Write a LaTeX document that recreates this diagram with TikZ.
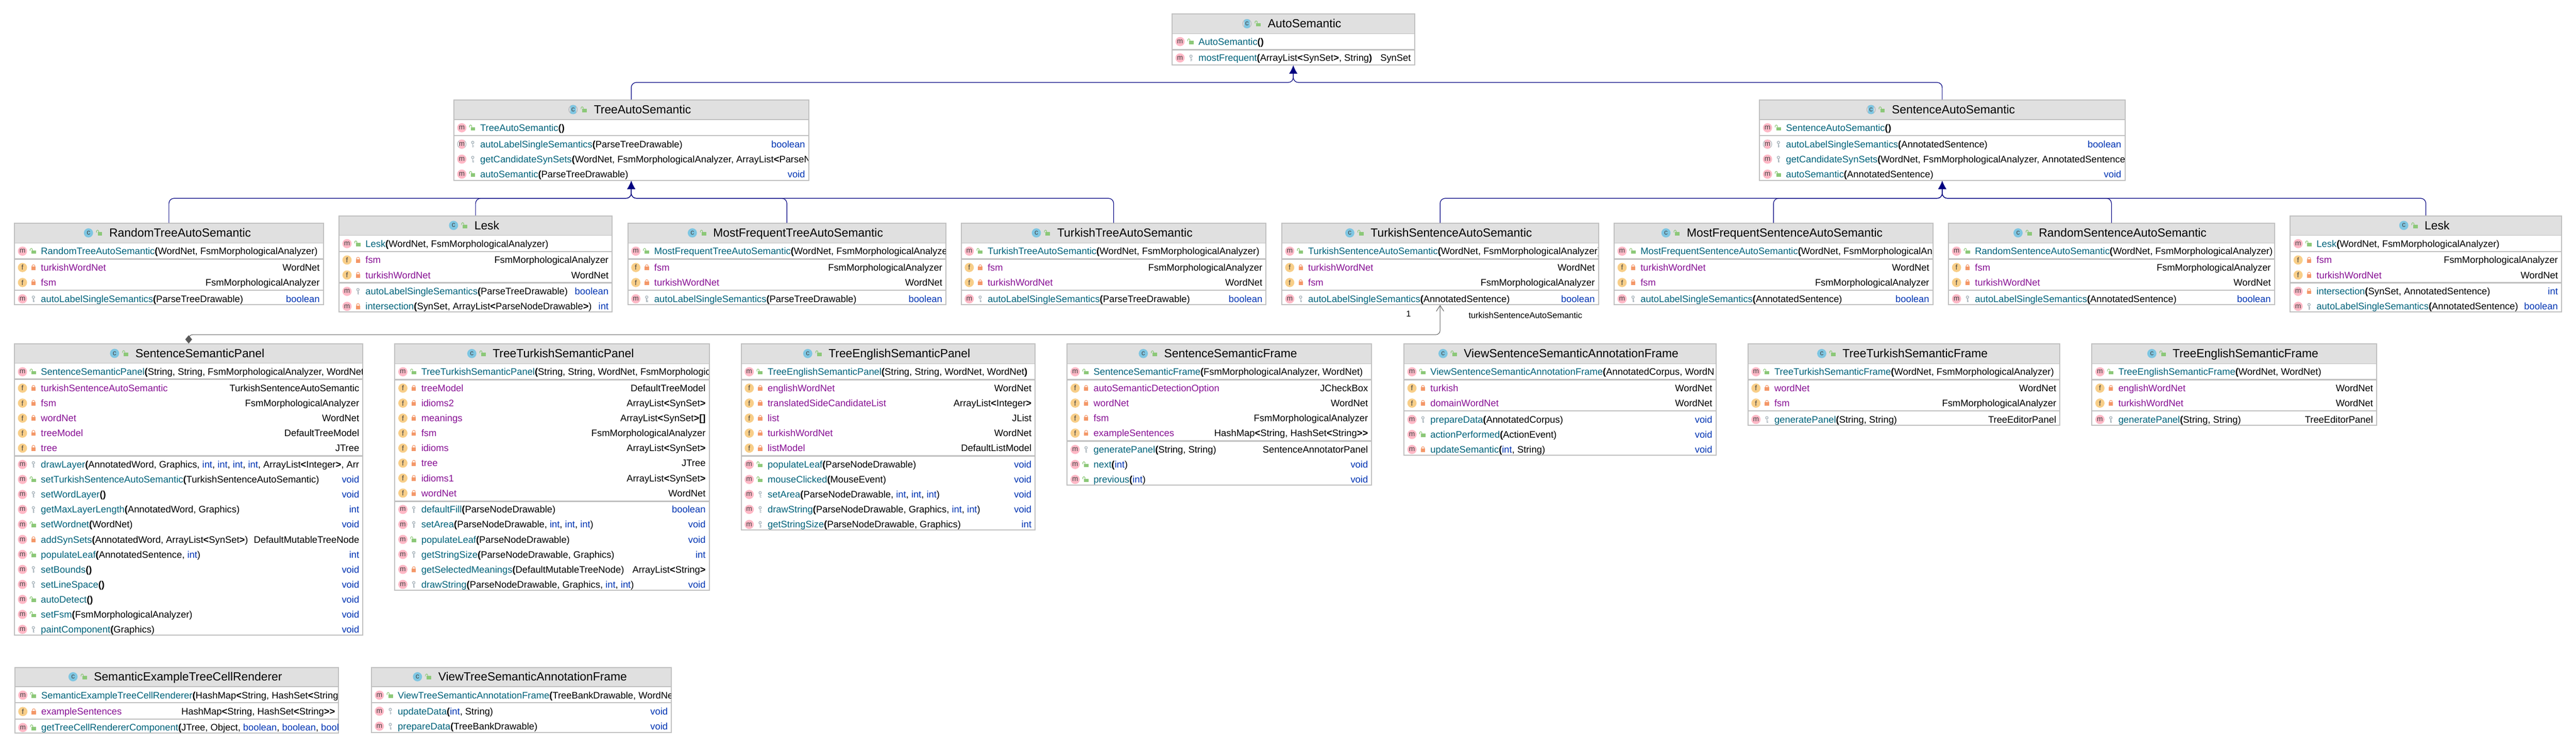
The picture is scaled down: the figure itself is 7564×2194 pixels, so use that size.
\documentclass[tikz,border=0pt]{standalone}
\usepackage{fontspec}
\setmainfont{Liberation Sans}
\usetikzlibrary{calc,arrows.meta}
\definecolor{bordergrey}{HTML}{C0C0C0}
\definecolor{headgrey}{HTML}{E0E0E0}
\definecolor{mpink}{HTML}{FFB8C6}
\definecolor{fyellow}{HTML}{F8CE88}
\definecolor{cblue}{HTML}{7EC6E2}
\definecolor{ringgrey}{HTML}{B4BAC0}
\definecolor{lockorange}{HTML}{F49869}
\definecolor{lockgreen}{HTML}{8CC878}
\definecolor{keygrey}{HTML}{AEB9C0}
\definecolor{glyphgrey}{HTML}{444444}
\definecolor{methodteal}{HTML}{00627A}
\definecolor{fieldpurple}{HTML}{871094}
\definecolor{kwblue}{HTML}{0033B3}
\definecolor{inhnavy}{HTML}{000080}
\definecolor{agggrey}{HTML}{595959}
\newcounter{umlc}
\newcommand{\kwd}[1]{\textcolor{kwblue}{#1}}
% the method name is followed by its opening bracket (or by an empty pair), set heavier
\newcommand{\mth}[2]{\textcolor{methodteal}{#1}\textbf{#2}}
\newcommand{\fld}[1]{\textcolor{fieldpurple}{#1}}
\newcommand{\La}{\textbf{<}}
\newcommand{\Ra}{\textbf{>}}
\tikzset{
  classbox/.style={draw=bordergrey,line width=3,inner sep=0},
  headfill/.style={fill=headgrey},
  headline/.style={draw=bordergrey,line width=2.2},
  divline/.style={draw=bordergrey,line width=3.8},
  titletext/.style={inner sep=0,text=black,font=\fontsize{34.6}{38}\selectfont},
  rowtext/.style={inner sep=0,text=black,font=\fontsize{27.8}{30}\selectfont},
  iconnode/.style={circle,inner sep=0,minimum size=27,text=glyphgrey,font=\fontsize{21}{22}\selectfont},
  iconletter/.style={inner sep=0,text=glyphgrey,font=\fontsize{21}{22}\selectfont},
  inherit/.style={draw=inhnavy,line width=1.8,rounded corners=15,-{Latex[length=24,width=24]}},
  assoc/.style={draw=agggrey,line width=1.5,rounded corners=12,{Diamond[length=24,width=20]}-{Straight Barb[length=17,width=22,line width=1.5]}},
  assoclabel/.style={inner sep=0,text=black,font=\fontsize{24.9}{27}\selectfont},
}
% ---- member icons
\newcommand{\umlIconm}[1]{\stepcounter{umlc}\node[iconnode,fill=mpink] (ic\arabic{umlc}) at #1 {m};}
\newcommand{\umlIconf}[1]{\stepcounter{umlc}\node[iconnode,fill=fyellow] (ic\arabic{umlc}) at #1 {f};}
\newcommand{\umlIconc}[1]{\stepcounter{umlc}\node[iconnode,fill=cblue] (ic\arabic{umlc}) at #1 {c};}
\newcommand{\umlAbs}[3]{\stepcounter{umlc}\begin{scope}[shift={#1}]
  \draw[ringgrey,line width=2] (0,0) circle (12.5);
  \begin{scope}\clip (0,0) circle (13.5);\fill[#2] (-8,-14) rectangle (8,14);\end{scope}
  \node[iconletter] (ic\arabic{umlc}) at (0,0) {#3};
\end{scope}}
\newcommand{\umlIcona}[1]{\umlAbs{#1}{mpink}{m}}
\newcommand{\umlIconac}[1]{\umlAbs{#1}{cblue}{c}}
% ---- visibility icons
\newcommand{\umlVispub}[1]{\begin{scope}[shift={#1}]
  \fill[lockgreen] (-6,-2) rectangle (7.5,8);
  \draw[lockgreen,line width=1.7,rounded corners=2.5] (-9.5,-1) -- (-9.5,-8) -- (-3,-8) -- (-3,-2);
\end{scope}}
\newcommand{\umlVispri}[1]{\begin{scope}[shift={#1}]
  \fill[lockorange] (-6,-2.5) rectangle (6.5,8);
  \draw[lockorange,line width=1.7,rounded corners=3.5] (-3.8,-2) -- (-3.8,-8) -- (4.2,-8) -- (4.2,-2);
\end{scope}}
\newcommand{\umlVispac}[1]{\begin{scope}[shift={#1}]
  \draw[keygrey,line width=2.2] (0,-5) circle (3.6);
  \draw[keygrey,line width=2.6] (0,-1.5) -- (0,9.5);
  \draw[keygrey,line width=1.8] (0,4) -- (3.5,4) (0,8) -- (3.5,8);
\end{scope}}
% ---- class frame: [icon]{id}{x1}{x2}{ytop}{yhead}{ybot}{title}
\newcommand{\umlclass}[8][c]{%
  \def\curL{#3}\def\curR{#4}%
  \fill[headfill] (#3,#5) rectangle (#4,#6);
  \draw[headline] (#3,#6) -- (#4,#6);
  \node[classbox,minimum width={#4-#3-3},minimum height={#7-#5-3}] (#2) at ({(#3+#4)/2},{(#5+#7)/2}) {};
  \node[titletext,anchor=base] (#2t) at ({(#3+#4)/2+33},{(#5+#6)/2+12}) {#8};
  \csname umlIcon#1\endcsname{($(#2t.base west)+(-61,-12)$)}
  \umlVispub{($(#2t.base west)+(-28,-12)$)}
}
\newcommand{\umldiv}[1]{\draw[divline] (\curL,#1) -- (\curR,#1);}
% ---- row: {icon}{vis}{y}{left}{right}
\newcommand{\umlrow}[5]{%
  \csname umlIcon#1\endcsname{({\curL+25},#3)}
  \csname umlVis#2\endcsname{({\curL+57},#3)}
  \stepcounter{umlc}%
  \begin{scope}
    \clip ({\curL+3},{#3-21}) rectangle ({\curR-3},{#3+21});
    \node[rowtext,anchor=base west] (rl\arabic{umlc}) at ({\curL+79},{#3+10}) {#4};
    \if\relax\detokenize{#5}\relax\else
      \node[rowtext,anchor=base east] (rr\arabic{umlc}) at ({\curR-12},{#3+10}) {#5};
    \fi
  \end{scope}
}
\newcommand{\Mrow}[4]{\umlrow{m}{#1}{#2}{#3}{#4}}
\newcommand{\Frow}[3]{\umlrow{f}{pri}{#1}{\fld{#2}}{#3}}
\begin{document}
\begin{tikzpicture}[x=1pt,y=-1pt]
\useasboundingbox (0,0) rectangle (7564,2194);
\fill[white] (0,0) rectangle (7564,2194);

% ===== top
\umlclass[ac]{autosem}{3440}{4155}{40}{99}{192}{AutoSemantic}
\umldiv{146}
\Mrow{pub}{122}{\mth{AutoSemantic}{()}}{}
\Mrow{pac}{170}{\mth{mostFrequent}(ArrayList\La SynSet\Ra, String\textbf{)}}{SynSet}

\umlclass[ac]{treeauto}{1331}{2376}{292}{351}{531}{TreeAutoSemantic}
\umldiv{398}
\Mrow{pub}{375}{\mth{TreeAutoSemantic}{()}}{}
\umlrow{a}{pac}{423}{\mth{autoLabelSingleSemantics}(ParseTreeDrawable)}{\kwd{boolean}}
\Mrow{pac}{467}{\mth{getCandidateSynSets}(WordNet, FsmMorphologicalAnalyzer, ArrayList\La ParseN}{}
\Mrow{pub}{511}{\mth{autoSemantic}(ParseTreeDrawable)}{\kwd{void}}

\umlclass[ac]{sentauto}{5165}{6241}{292}{351}{531}{SentenceAutoSemantic}
\umldiv{398}
\Mrow{pub}{375}{\mth{SentenceAutoSemantic}{()}}{}
\umlrow{a}{pac}{423}{\mth{autoLabelSingleSemantics}(AnnotatedSentence)}{\kwd{boolean}}
\Mrow{pac}{467}{\mth{getCandidateSynSets}(WordNet, FsmMorphologicalAnalyzer, AnnotatedSentence}{}
\Mrow{pub}{511}{\mth{autoSemantic}(AnnotatedSentence)}{\kwd{void}}

% ===== second row
\umlclass{randtree}{41}{951}{654}{713}{895}{RandomTreeAutoSemantic}
\umldiv{760}\umldiv{852}
\Mrow{pub}{737}{\mth{RandomTreeAutoSemantic}(WordNet, FsmMorphologicalAnalyzer)}{}
\Frow{785}{turkishWordNet}{WordNet}
\Frow{829}{fsm}{FsmMorphologicalAnalyzer}
\Mrow{pac}{877}{\mth{autoLabelSingleSemantics}(ParseTreeDrawable)}{\kwd{boolean}}

\umlclass{lesktree}{994}{1799}{632}{691}{917}{Lesk}
\umldiv{738}\umldiv{830}
\Mrow{pub}{715}{\mth{Lesk}(WordNet, FsmMorphologicalAnalyzer)}{}
\Frow{763}{fsm}{FsmMorphologicalAnalyzer}
\Frow{807}{turkishWordNet}{WordNet}
\Mrow{pac}{855}{\mth{autoLabelSingleSemantics}(ParseTreeDrawable)}{\kwd{boolean}}
\Mrow{pri}{899}{\mth{intersection}(SynSet, ArrayList\La ParseNodeDrawable\Ra)}{\kwd{int}}

\umlclass{mftree}{1842}{2779}{654}{713}{895}{MostFrequentTreeAutoSemantic}
\umldiv{760}\umldiv{852}
\Mrow{pub}{737}{\mth{MostFrequentTreeAutoSemantic}(WordNet, FsmMorphologicalAnalyze}{}
\Frow{785}{fsm}{FsmMorphologicalAnalyzer}
\Frow{829}{turkishWordNet}{WordNet}
\Mrow{pac}{877}{\mth{autoLabelSingleSemantics}(ParseTreeDrawable)}{\kwd{boolean}}

\umlclass{turktree}{2821}{3719}{654}{713}{895}{TurkishTreeAutoSemantic}
\umldiv{760}\umldiv{852}
\Mrow{pub}{737}{\mth{TurkishTreeAutoSemantic}(WordNet, FsmMorphologicalAnalyzer)}{}
\Frow{785}{fsm}{FsmMorphologicalAnalyzer}
\Frow{829}{turkishWordNet}{WordNet}
\Mrow{pac}{877}{\mth{autoLabelSingleSemantics}(ParseTreeDrawable)}{\kwd{boolean}}

\umlclass{turksent}{3762}{4695}{654}{713}{895}{TurkishSentenceAutoSemantic}
\umldiv{760}\umldiv{852}
\Mrow{pub}{737}{\mth{TurkishSentenceAutoSemantic}(WordNet, FsmMorphologicalAnalyzer)}{}
\Frow{785}{turkishWordNet}{WordNet}
\Frow{829}{fsm}{FsmMorphologicalAnalyzer}
\Mrow{pac}{877}{\mth{autoLabelSingleSemantics}(AnnotatedSentence)}{\kwd{boolean}}

\umlclass{mfsent}{4738}{5677}{654}{713}{895}{MostFrequentSentenceAutoSemantic}
\umldiv{760}\umldiv{852}
\Mrow{pub}{737}{\mth{MostFrequentSentenceAutoSemantic}(WordNet, FsmMorphologicalAn}{}
\Frow{785}{turkishWordNet}{WordNet}
\Frow{829}{fsm}{FsmMorphologicalAnalyzer}
\Mrow{pac}{877}{\mth{autoLabelSingleSemantics}(AnnotatedSentence)}{\kwd{boolean}}

\umlclass{randsent}{5720}{6680}{654}{713}{895}{RandomSentenceAutoSemantic}
\umldiv{760}\umldiv{852}
\Mrow{pub}{737}{\mth{RandomSentenceAutoSemantic}(WordNet, FsmMorphologicalAnalyzer)}{}
\Frow{785}{fsm}{FsmMorphologicalAnalyzer}
\Frow{829}{turkishWordNet}{WordNet}
\Mrow{pac}{877}{\mth{autoLabelSingleSemantics}(AnnotatedSentence)}{\kwd{boolean}}

\umlclass{lesksent}{6723}{7523}{632}{691}{917}{Lesk}
\umldiv{738}\umldiv{830}
\Mrow{pub}{715}{\mth{Lesk}(WordNet, FsmMorphologicalAnalyzer)}{}
\Frow{763}{fsm}{FsmMorphologicalAnalyzer}
\Frow{807}{turkishWordNet}{WordNet}
\Mrow{pri}{855}{\mth{intersection}(SynSet, AnnotatedSentence)}{\kwd{int}}
\Mrow{pac}{899}{\mth{autoLabelSingleSemantics}(AnnotatedSentence)}{\kwd{boolean}}

% ===== third row
\umlclass{sspanel}{41}{1067}{1008}{1066}{1865}{SentenceSemanticPanel}
\umldiv{1113}\umldiv{1338}
\Mrow{pub}{1091}{\mth{SentenceSemanticPanel}(String, String, FsmMorphologicalAnalyzer, WordNet}{}
\Frow{1139}{turkishSentenceAutoSemantic}{TurkishSentenceAutoSemantic}
\Frow{1183}{fsm}{FsmMorphologicalAnalyzer}
\Frow{1227}{wordNet}{WordNet}
\Frow{1271}{treeModel}{DefaultTreeModel}
\Frow{1315}{tree}{JTree}
\Mrow{pac}{1363}{\mth{drawLayer}(AnnotatedWord, Graphics, \kwd{int}, \kwd{int}, \kwd{int}, \kwd{int}, ArrayList\La Integer\Ra, Arr}{}
\Mrow{pub}{1407}{\mth{setTurkishSentenceAutoSemantic}(TurkishSentenceAutoSemantic)}{\kwd{void}}
\Mrow{pac}{1451}{\mth{setWordLayer}{()}}{\kwd{void}}
\Mrow{pac}{1495}{\mth{getMaxLayerLength}(AnnotatedWord, Graphics)}{\kwd{int}}
\Mrow{pub}{1539}{\mth{setWordnet}(WordNet)}{\kwd{void}}
\Mrow{pri}{1583}{\mth{addSynSets}(AnnotatedWord, ArrayList\La SynSet\Ra)}{DefaultMutableTreeNode}
\Mrow{pub}{1627}{\mth{populateLeaf}(AnnotatedSentence, \kwd{int})}{\kwd{int}}
\Mrow{pac}{1671}{\mth{setBounds}{()}}{\kwd{void}}
\Mrow{pac}{1715}{\mth{setLineSpace}{()}}{\kwd{void}}
\Mrow{pub}{1759}{\mth{autoDetect}{()}}{\kwd{void}}
\Mrow{pub}{1803}{\mth{setFsm}(FsmMorphologicalAnalyzer)}{\kwd{void}}
\Mrow{pac}{1847}{\mth{paintComponent}(Graphics)}{\kwd{void}}

\umlclass{ttpanel}{1158}{2084}{1008}{1067}{1733}{TreeTurkishSemanticPanel}
\umldiv{1114}\umldiv{1471}
\Mrow{pub}{1091}{\mth{TreeTurkishSemanticPanel}(String, String, WordNet, FsmMorphologic}{}
\Frow{1139}{treeModel}{DefaultTreeModel}
\Frow{1183}{idioms2}{ArrayList\La SynSet\Ra}
\Frow{1227}{meanings}{ArrayList\La SynSet\Ra\textbf{[]}}
\Frow{1271}{fsm}{FsmMorphologicalAnalyzer}
\Frow{1315}{idioms}{ArrayList\La SynSet\Ra}
\Frow{1359}{tree}{JTree}
\Frow{1403}{idioms1}{ArrayList\La SynSet\Ra}
\Frow{1447}{wordNet}{WordNet}
\Mrow{pac}{1495}{\mth{defaultFill}(ParseNodeDrawable)}{\kwd{boolean}}
\Mrow{pac}{1539}{\mth{setArea}(ParseNodeDrawable, \kwd{int}, \kwd{int}, \kwd{int})}{\kwd{void}}
\Mrow{pub}{1583}{\mth{populateLeaf}(ParseNodeDrawable)}{\kwd{void}}
\Mrow{pac}{1627}{\mth{getStringSize}(ParseNodeDrawable, Graphics)}{\kwd{int}}
\Mrow{pri}{1671}{\mth{getSelectedMeanings}(DefaultMutableTreeNode)}{ArrayList\La String\Ra}
\Mrow{pac}{1715}{\mth{drawString}(ParseNodeDrawable, Graphics, \kwd{int}, \kwd{int})}{\kwd{void}}

\umlclass{tepanel}{2175}{3041}{1008}{1067}{1557}{TreeEnglishSemanticPanel}
\umldiv{1114}\umldiv{1338}
\Mrow{pub}{1091}{\mth{TreeEnglishSemanticPanel}(String, String, WordNet, WordNet\textbf{)}}{}
\Frow{1139}{englishWordNet}{WordNet}
\Frow{1183}{translatedSideCandidateList}{ArrayList\La Integer\Ra}
\Frow{1227}{list}{JList}
\Frow{1271}{turkishWordNet}{WordNet}
\Frow{1315}{listModel}{DefaultListModel}
\Mrow{pub}{1363}{\mth{populateLeaf}(ParseNodeDrawable)}{\kwd{void}}
\Mrow{pub}{1407}{\mth{mouseClicked}(MouseEvent)}{\kwd{void}}
\Mrow{pac}{1451}{\mth{setArea}(ParseNodeDrawable, \kwd{int}, \kwd{int}, \kwd{int})}{\kwd{void}}
\Mrow{pac}{1495}{\mth{drawString}(ParseNodeDrawable, Graphics, \kwd{int}, \kwd{int})}{\kwd{void}}
\Mrow{pac}{1539}{\mth{getStringSize}(ParseNodeDrawable, Graphics)}{\kwd{int}}

\umlclass{ssframe}{3132}{4029}{1008}{1067}{1425}{SentenceSemanticFrame}
\umldiv{1114}\umldiv{1294}
\Mrow{pub}{1091}{\mth{SentenceSemanticFrame}(FsmMorphologicalAnalyzer, WordNet)}{}
\Frow{1139}{autoSemanticDetectionOption}{JCheckBox}
\Frow{1183}{wordNet}{WordNet}
\Frow{1227}{fsm}{FsmMorphologicalAnalyzer}
\Frow{1271}{exampleSentences}{HashMap\La String, HashSet\La String\Ra\Ra}
\Mrow{pac}{1319}{\mth{generatePanel}(String, String)}{SentenceAnnotatorPanel}
\Mrow{pub}{1363}{\mth{next}(\kwd{int})}{\kwd{void}}
\Mrow{pub}{1407}{\mth{previous}(\kwd{int})}{\kwd{void}}

\umlclass{vsframe}{4121}{5040}{1008}{1067}{1337}{ViewSentenceSemanticAnnotationFrame}
\umldiv{1114}\umldiv{1206}
\Mrow{pub}{1091}{\mth{ViewSentenceSemanticAnnotationFrame}(AnnotatedCorpus, WordN}{}
\Frow{1139}{turkish}{WordNet}
\Frow{1183}{domainWordNet}{WordNet}
\Mrow{pac}{1231}{\mth{prepareData}(AnnotatedCorpus)}{\kwd{void}}
\Mrow{pub}{1275}{\mth{actionPerformed}(ActionEvent)}{\kwd{void}}
\Mrow{pri}{1319}{\mth{updateSemantic}(\kwd{int}, String)}{\kwd{void}}

\umlclass{ttframe}{5131}{6050}{1008}{1067}{1249}{TreeTurkishSemanticFrame}
\umldiv{1114}\umldiv{1206}
\Mrow{pub}{1091}{\mth{TreeTurkishSemanticFrame}(WordNet, FsmMorphologicalAnalyzer)}{}
\Frow{1139}{wordNet}{WordNet}
\Frow{1183}{fsm}{FsmMorphologicalAnalyzer}
\Mrow{pac}{1231}{\mth{generatePanel}(String, String)}{TreeEditorPanel}

\umlclass{teframe}{6141}{6980}{1008}{1067}{1249}{TreeEnglishSemanticFrame}
\umldiv{1114}\umldiv{1206}
\Mrow{pub}{1091}{\mth{TreeEnglishSemanticFrame}(WordNet, WordNet)}{}
\Frow{1139}{englishWordNet}{WordNet}
\Frow{1183}{turkishWordNet}{WordNet}
\Mrow{pac}{1231}{\mth{generatePanel}(String, String)}{TreeEditorPanel}

% ===== bottom row
\umlclass{renderer}{42}{996}{1957}{2015}{2153}{SemanticExampleTreeCellRenderer}
\umldiv{2062}\umldiv{2110}
\Mrow{pub}{2040}{\mth{SemanticExampleTreeCellRenderer}(HashMap\La String, HashSet\La String\Ra}{}
\Frow{2088}{exampleSentences}{HashMap\La String, HashSet\La String\Ra\Ra}
\Mrow{pub}{2135}{\mth{getTreeCellRendererComponent}(JTree, Object, \kwd{boolean}, \kwd{boolean}, \kwd{bool}}{}

\umlclass{vtframe}{1089}{1973}{1957}{2015}{2151}{ViewTreeSemanticAnnotationFrame}
\umldiv{2062}
\Mrow{pub}{2040}{\mth{ViewTreeSemanticAnnotationFrame}(TreeBankDrawable, WordNet}{}
\Mrow{pac}{2087}{\mth{updateData}(\kwd{int}, String)}{\kwd{void}}
\Mrow{pac}{2131}{\mth{prepareData}(TreeBankDrawable)}{\kwd{void}}

% ===== connectors
\coordinate (bustop) at (0,242);
\coordinate (busmid) at (0,582);
\coordinate (busagg) at (0,982);
\draw[inherit] (treeauto.north) |- (autosem.south |- bustop) -- (autosem.south);
\draw[inherit] (sentauto.north) |- (autosem.south |- bustop) -- (autosem.south);
\foreach \child in {randtree,lesktree,mftree,turktree}
  \draw[inherit] (\child.north) |- (treeauto.south |- busmid) -- (treeauto.south);
\foreach \child in {turksent,mfsent,randsent,lesksent}
  \draw[inherit] (\child.north) |- (sentauto.south |- busmid) -- (sentauto.south);
\draw[assoc] (sspanel.north) |- (turksent.south |- busagg) -- (turksent.south);
\node[assoclabel,anchor=base] (multone) at (4136,929) {1};
\node[assoclabel,anchor=base west] (rolename) at (4312,934) {turkishSentenceAutoSemantic};
\end{tikzpicture}
\end{document}
